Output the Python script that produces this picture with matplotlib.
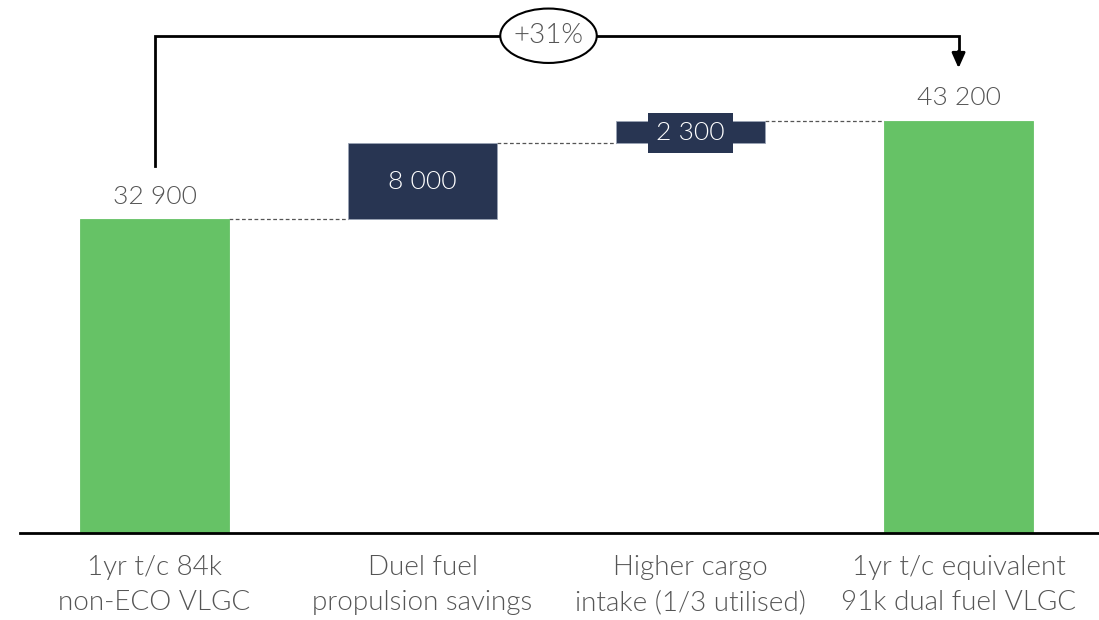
import numpy as np
import matplotlib.pyplot as plt
from matplotlib.patches import Ellipse

# waterfall data
categories = ['1yr t/c 84k\nnon-ECO VLGC', 'Duel fuel\npropulsion savings',
              'Higher cargo\nintake (1/3 utilised)', '1yr t/c equivalent\n91k dual fuel VLGC']
values = [32900, 8000, 2300, 43200]
is_total = [True, False, False, True]
value_labels = ['32 900', '8 000', '2 300', '43 200']
change_label = '+31%'

green = '#66c266'
navy = '#283552'
grey_txt = '#555555'

plt.rcParams['font.family'] = ['Lato', 'DejaVu Sans']
fw = 300

fig = plt.figure(figsize=(10.99, 6.2), dpi=100)
ax = fig.add_axes([20 / 1099, 87 / 620, 1079 / 1099, 533 / 620])

x = np.arange(len(values))
w = 0.556

bottoms = []
tops = []
run = 0
for v, tot in zip(values, is_total):
    if tot:
        bottoms.append(0)
        tops.append(v)
        run = v
    else:
        bottoms.append(run)
        run += v
        tops.append(run)

for i in range(len(values)):
    col = green if is_total[i] else navy
    ax.bar(x[i], tops[i] - bottoms[i], bottom=bottoms[i], width=w, color=col,
           edgecolor=col if is_total[i] else '#9aa3b5', linewidth=0.6, zorder=2)

# dashed connectors
for i in range(len(values) - 1):
    ax.plot([x[i] + w / 2, x[i + 1] - w / 2], [tops[i], tops[i]], ls=(0, (3, 2)),
            color='#555555', lw=0.9, zorder=1)

# labels
for i in range(len(values)):
    if is_total[i]:
        ax.annotate(value_labels[i], (x[i], tops[i]), xytext=(0, 16), textcoords='offset points',
                    ha='center', va='center', fontsize=19, fontweight=fw, color=grey_txt)
    else:
        mid = (tops[i] + bottoms[i]) / 2
        bb = None
        if tops[i] - bottoms[i] < 4000:
            bb = dict(boxstyle='square,pad=0.3', fc=navy, ec='none')
        ax.text(x[i], mid - 150, value_labels[i], ha='center', va='center', fontsize=19,
                fontweight=fw, color='white', bbox=bb, zorder=3)

# bracket arrow
y_top = 52100
y_start = tops[0] + 5550
y_end = tops[-1] + 5700
ax.plot([x[0], x[0], x[-1], x[-1]], [y_start, y_top, y_top, y_end + 1500], color='black',
        lw=2, solid_joinstyle='miter', zorder=3)
ax.annotate('', xy=(x[-1], y_end - 200), xytext=(x[-1], y_end + 1600),
            arrowprops=dict(arrowstyle='-|>,head_length=0.9,head_width=0.4', color='black', lw=2,
                            shrinkA=0, shrinkB=0))
xm = 1.47
ax.add_patch(Ellipse((xm, y_top), 0.36, 5700, fc='white', ec='black', lw=1.5, zorder=4))
ax.text(xm, y_top, change_label, ha='center', va='center', fontsize=20, fontweight=fw,
        color=grey_txt, zorder=5)

ax.set_xlim(-0.502, 3.524)
ax.set_ylim(0, 55846)
ax.set_xticks(x)
ax.set_xticklabels(categories, fontsize=20, fontweight=fw, color=grey_txt, linespacing=1.5)
ax.tick_params(axis='x', length=0, pad=16)
ax.set_yticks([])
for s in ['top', 'left', 'right']:
    ax.spines[s].set_visible(False)
ax.spines['bottom'].set_linewidth(2)
ax.patch.set_alpha(0)

fig.savefig('out.png', dpi=100)
